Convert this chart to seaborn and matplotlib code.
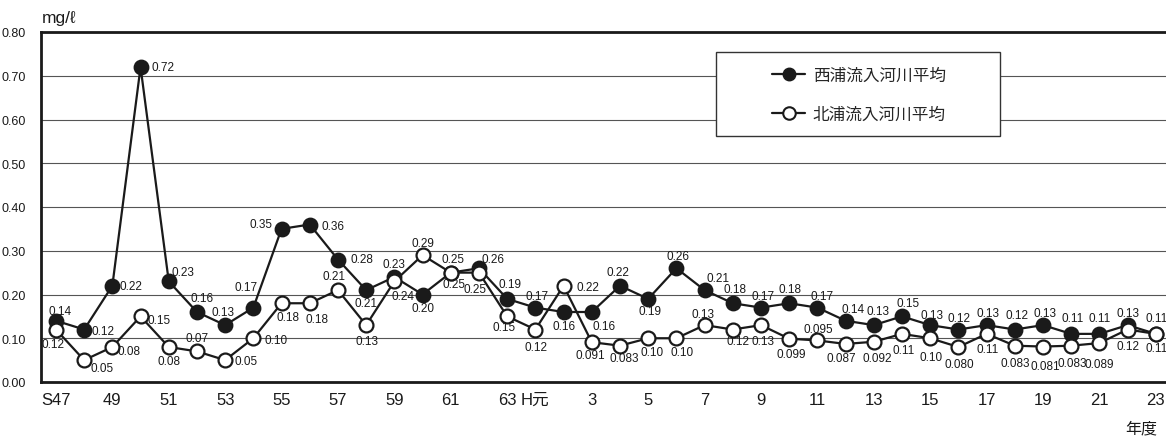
import numpy as np
import pandas as pd
import matplotlib
matplotlib.use("Agg")
import matplotlib.pyplot as plt
from matplotlib.patches import Rectangle
from matplotlib.lines import Line2D
import seaborn as sns

# ---------------- data ----------------
tick_labels = ["S47", "", "49", "", "51", "", "53", "", "55", "", "57", "", "59", "", "61", "", "63",
               "H元", "", "3", "", "5", "", "7", "", "9", "", "11", "", "13", "", "15", "", "17", "",
               "19", "", "21", "", "23"]

nishiura = [0.14, 0.12, 0.22, 0.72, 0.23, 0.16, 0.13, 0.17, 0.35, 0.36, 0.28, 0.21, 0.24, 0.20, 0.25, 0.26, 0.19,
            0.17, 0.16, 0.16, 0.22, 0.19, 0.26, 0.21, 0.18, 0.17, 0.18, 0.17, 0.14, 0.13, 0.15, 0.13, 0.12,
            0.13, 0.12, 0.13, 0.11, 0.11, 0.13, 0.11]
nishiura_labels = ["0.14", "0.12", "0.22", "0.72", "0.23", "0.16", "0.13", "0.17", "0.35", "0.36", "0.28", "0.21",
                   "0.23", "0.20", "0.25", "0.26", "0.19", "0.17", "0.16", "0.16", "0.22", "0.19", "0.26", "0.21",
                   "0.18", "0.17", "0.18", "0.17", "0.14", "0.13", "0.15", "0.13", "0.12", "0.13", "0.12", "0.13",
                   "0.11", "0.11", "0.13", "0.11"]

kitaura = [0.12, 0.05, 0.08, 0.15, 0.08, 0.07, 0.05, 0.10, 0.18, 0.18, 0.21, 0.13, 0.23, 0.29, 0.25, 0.25, 0.15,
           0.12, 0.22, 0.091, 0.083, 0.10, 0.10, 0.13, 0.12, 0.13, 0.099, 0.095, 0.087, 0.092, 0.11, 0.10, 0.080,
           0.11, 0.083, 0.081, 0.083, 0.089, 0.12, 0.11]
kitaura_labels = ["0.12", "0.05", "0.08", "0.15", "0.08", "0.07", "0.05", "0.10", "0.18", "0.18", "0.21", "0.13",
                  "0.24", "0.29", "0.25", "0.25", "0.15", "0.12", "0.22", "0.091", "0.083", "0.10", "0.10", "0.13",
                  "0.12", "0.13", "0.099", "0.095", "0.087", "0.092", "0.11", "0.10", "0.080", "0.11", "0.083",
                  "0.081", "0.083", "0.089", "0.12", "0.11"]

series_names = ["西浦流入河川平均", "北浦流入河川平均"]

# ---------------- style (label offsets in pixels: dx right, dy down) ----------------
nishiura_off = [(4, -10), (19, 2), (19, 0), (22, 0), (14, -9), (5, -14), (-2, -13), (-7, -21), (-21, -5), (23, 2),
                (24, 0), (0, 13), (0, -13), (0, 14), (2, -14), (14, -9), (3, -15), (2, -12), (0, 14), (12, 14),
                (-2, -14), (2, 12), (2, -12), (13, -12), (2, -14), (2, -12), (1, -14), (5, -12), (7, -12), (4, -14),
                (6, -13), (2, -10), (1, -11), (1, -12), (2, -14), (2, -12), (1, -16), (0, -16), (0, -12), (1, -16)]
kitaura_off = [(-3, 15), (18, 8), (17, 4), (19, 4), (0, 14), (0, -13), (21, 1), (23, 2), (6, 14), (7, 16),
               (-4, -14), (1, 16), (9, 15), (0, -12), (3, 11), (-4, 16), (-3, 11), (1, 18), (24, 1), (-1, 13),
               (4, 12), (4, 14), (6, 14), (-2, -11), (5, 12), (2, 16), (2, 15), (1, -11), (-4, 14), (3, 16),
               (2, 16), (1, 19), (1, 17), (1, 15), (0, 17), (2, 19), (1, 17), (0, 21), (0, 17), (1, 14)]

sns.set_style("white")
plt.rcParams["font.family"] = ["Liberation Sans", "Noto Sans CJK JP", "DejaVu Sans"]
LAT = ["Liberation Sans", "Noto Sans CJK JP", "DejaVu Sans"]
CJK = ["Noto Sans CJK JP", "DejaVu Sans"]

W, H = 1166, 439
fig = plt.figure(figsize=(W / 100, H / 100), dpi=100)
ax = fig.add_axes([41 / W, 56 / H, 1 - 41 / W, (383 - 33) / H])

idx = np.arange(len(nishiura))
df = pd.DataFrame({"idx": idx, "nishiura": nishiura, "kitaura": kitaura})

ink = "#1a1a1a"
sns.lineplot(data=df, x="idx", y="nishiura", ax=ax, color=ink, linewidth=1.6, marker="o",
             markersize=10, markerfacecolor=ink, markeredgecolor=ink, markeredgewidth=1.4, zorder=3)
sns.lineplot(data=df, x="idx", y="kitaura", ax=ax, color=ink, linewidth=1.6, marker="o",
             markersize=10, markerfacecolor="white", markeredgecolor=ink, markeredgewidth=1.6, zorder=4)

for i in idx:
    dx, dy = nishiura_off[i]
    ax.annotate(nishiura_labels[i], (i, nishiura[i]), xytext=(dx, -dy), textcoords="offset pixels",
                ha="center", va="center", fontsize=8.5, color=ink, family=LAT, zorder=6)
    dx, dy = kitaura_off[i]
    ax.annotate(kitaura_labels[i], (i, kitaura[i]), xytext=(dx, -dy), textcoords="offset pixels",
                ha="center", va="center", fontsize=8.5, color=ink, family=LAT, zorder=6)

ax.set_xlim(-0.53, (1166 - 56) / 28.2)
ax.set_ylim(0, 0.8)
yt = np.arange(0, 0.81, 0.1)
ax.set_yticks(yt)
ax.set_yticklabels([f"{v:.2f}" for v in yt], fontsize=9, family=LAT, color=ink)
ax.set_xticks(idx)
ax.set_xticklabels(tick_labels, fontsize=12, family=LAT, color=ink)
ax.tick_params(axis="y", length=0, pad=11)
ax.tick_params(axis="x", direction="in", length=4, width=0.9, color=ink, pad=7)
ax.set_xlabel("")
ax.set_ylabel("")
ax.grid(axis="y", color="#555555", linewidth=0.8, zorder=0)
ax.set_axisbelow(True)

for s in ["left", "bottom", "top"]:
    ax.spines[s].set_color(ink)
    ax.spines[s].set_linewidth(2.0)
ax.spines["right"].set_visible(False)

# legend box
fig.patches.append(Rectangle((716 / W, 1 - 137 / H), (1000 - 716) / W, (137 - 53) / H,
                             transform=fig.transFigure, facecolor="white", edgecolor="#333333",
                             linewidth=1.0, zorder=5))
handles = [
    Line2D([], [], color=ink, linewidth=1.6, marker="o", markersize=9, markerfacecolor=ink,
           markeredgecolor=ink),
    Line2D([], [], color=ink, linewidth=1.6, marker="o", markersize=9, markerfacecolor="white",
           markeredgecolor=ink, markeredgewidth=1.5),
]
leg = fig.legend(handles, series_names, loc="center", bbox_to_anchor=(859 / W, 1 - 96 / H),
                 frameon=False, handlelength=2.0, handletextpad=0.45, labelspacing=1.3,
                 prop={"family": CJK, "size": 12})
leg.set_zorder(7)

fig.text(42 / W, 1 - 18 / H, "mg/ℓ", fontsize=12.5, ha="left", va="center", color=ink,
         family=["Liberation Sans", "DejaVu Sans"])
fig.text(1141 / W, 1 - 429 / H, "年度", fontsize=11.5, ha="center", va="center", color=ink, family=CJK)

fig.savefig("out.png", dpi=100)
